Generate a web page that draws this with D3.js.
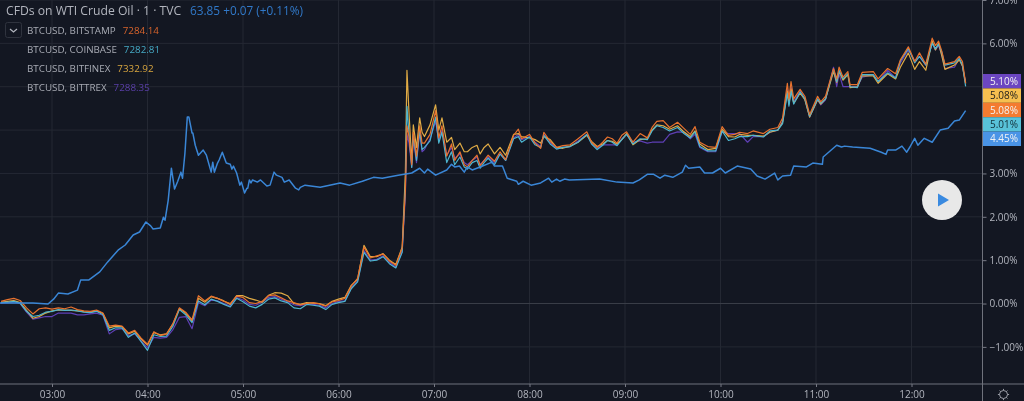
<!DOCTYPE html>
<html><head><meta charset="utf-8">
<script src="https://cdn.jsdelivr.net/npm/d3@7/dist/d3.min.js"></script>
<style>html,body{margin:0;padding:0;background:#131722;overflow:hidden}svg{display:block;filter:blur(0.3px)}text{font-family:"Open Sans",sans-serif}</style>
</head><body><svg id="c" width="1024" height="401"></svg>
<script>
// Minutes after midnight
const oilTimes=[147,168,177.5,181,184,190,196,198,203,210,215,221.5,226,231,235,239,242,243.5,248,250,251,253,255,257,259,261,262,263.5,265,266,268,268.5,270,272,275,277,280,281,282,284,285,287,289.5,292,293,294,296,298,299,301,302.5,303,304,305,306,309,311,315,317,319.5,321,324.5,326,329,333,335,336,339,348.5,361,367,375,382,387.5,397.5,406,411,414,416,421,428,431,433,436,439,441,444,449,456.5,458,463,466,472,473,476,481,487,492,494,497,499,502,505,524,535,545,549,554,558,562,565,570,576,578,580,587,590,595,600,603,610.5,619,623,628,634,636,639,644,646,654,658,664,664.5,673,676,678,683,694,701,704,705,710,714,717,719,722,724,728,733,738,743,747,750,754];
const oilValues=[0.01,0.01,-0.01,0.10,0.24,0.22,0.31,0.54,0.54,0.73,0.96,1.23,1.35,1.58,1.65,1.88,1.79,1.72,1.74,1.99,1.92,2.38,3.12,2.64,2.82,3.03,2.89,3.46,4.30,4.30,3.93,3.93,3.65,3.42,3.54,3.42,3.03,3.26,3.03,3.24,3.31,3.49,3.24,3.21,3.10,3.17,3.01,2.73,2.80,2.55,2.66,2.66,2.85,2.78,2.85,2.80,2.85,2.71,2.73,3.03,2.96,2.91,2.80,2.85,2.66,2.62,2.68,2.73,2.68,2.78,2.73,2.82,2.91,2.89,2.96,3.01,3.12,3.01,3.10,2.96,3.08,3.21,3.15,3.17,3.03,3.15,3.08,3.15,3.26,3.17,3.17,2.89,2.82,2.75,2.82,2.73,2.78,2.89,2.80,2.87,2.82,2.87,2.85,2.87,2.80,2.78,2.85,2.98,2.98,2.89,2.96,2.91,3.03,3.19,3.12,3.15,3.01,3.01,3.12,3.01,3.17,3.10,2.94,2.87,3.01,2.85,2.94,2.96,3.17,3.15,3.24,3.21,3.38,3.65,3.61,3.63,3.61,3.58,3.49,3.44,3.54,3.54,3.63,3.49,3.61,3.81,3.65,3.81,3.72,4.00,4.04,4.21,4.23,4.45];
const btcTimes=[148,152,156,160,164,168,172,176,180,184,
188,192,196,200,204,208,212,216,220,224,
228,232,236,240,244,248,252,256,260,264,
268,272,276,280,284,288,292,296,300,304,
308,312,316,320,324,328,332,336,340,344,
348,352,356,360,364,368,372,376,380,384,
388,392,396,400,
402,403,404.3,406,407,409,411,412.5,414,417.5,
421,423,425,428,431,433,436.3,439,441,444,
447,449,451.5,454,458,461.5,465,470,473,475,
480,483.5,487,489,493,497,501,505.5,510.5,516,
519,522.5,526,529,532,535,538,541,545,549.5,
554,557,560,564,568,573,577,581,584,587,
592,597,601,605,609,612,617,620.5,627,631,
636,639,642,643,644.3,646,650,653,656,661,
663,666,671,673,674.5,677,680,681.4,686,689,
696,699,705,710,713,718,722,725,729,733,
735,737,739,741,747,750,752,754];
const bitstamp=[0.05,0.09,0.12,0.07,-0.10,-0.24,-0.12,-0.10,-0.13,-0.10,
-0.12,-0.08,-0.14,-0.17,-0.18,-0.15,-0.22,-0.52,-0.50,-0.52,
-0.68,-0.62,-0.80,-0.94,-0.65,-0.74,-0.70,-0.46,-0.10,-0.20,
-0.38,0.18,0.06,0.17,0.12,0.05,0.00,0.17,0.14,0.02,
0.00,0.05,0.18,0.20,0.13,0.06,0.02,-0.03,0.00,0.02,
-0.01,-0.06,0.04,0.07,0.12,0.40,0.58,1.30,1.05,1.10,
1.14,0.98,0.88,1.28,
2.6,4.1,3.85,3.2,3.95,3.4,4.1,3.7,3.7,3.9,
4.45,3.82,4.1,3.4,3.68,3.3,3.5,3.2,3.15,3.3,
3.42,3.18,3.3,3.42,3.28,3.5,3.32,3.88,4.02,3.8,
3.9,3.7,3.58,3.95,3.74,3.6,3.64,3.66,3.8,3.96,
3.72,3.6,3.72,3.84,3.8,3.7,3.88,3.96,3.72,3.92,
3.82,4.06,4.2,4.22,4.06,4.18,4.04,3.9,4.08,3.72,
3.62,3.6,4.08,3.88,3.9,3.95,3.92,3.98,3.92,4.02,
4.06,4.28,5.08,4.72,5.12,4.72,4.94,4.78,4.36,4.78,
4.65,4.78,5.42,5.18,5.45,5.22,5.35,5.05,5.05,5.33,
5.35,5.18,5.42,5.3,5.62,5.92,5.58,5.78,5.52,6.12,
5.95,6.05,5.82,5.52,5.58,5.7,5.58,5.08];
const coinbase=[0.02,0.03,0.05,0.01,-0.18,-0.30,-0.27,-0.20,-0.18,-0.14,
-0.16,-0.15,-0.17,-0.20,-0.21,-0.18,-0.26,-0.62,-0.56,-0.56,
-0.78,-0.68,-0.88,-1.08,-0.72,-0.76,-0.75,-0.52,-0.14,-0.26,
-0.44,0.06,-0.03,0.10,0.05,-0.02,-0.08,0.12,0.04,-0.06,
-0.10,-0.02,0.10,0.13,0.06,0.02,-0.10,-0.12,-0.02,-0.04,
-0.06,-0.14,-0.02,0.02,0.05,0.34,0.50,1.18,0.98,1.00,
1.08,0.92,0.82,1.18,
2.7,4.55,3.9,3.14,3.9,3.3,4.0,3.55,3.6,3.75,
4.3,3.7,3.95,3.25,3.5,3.2,3.38,3.15,3.1,3.25,
3.3,3.12,3.25,3.35,3.2,3.45,3.3,3.8,3.85,3.72,
3.84,3.66,3.6,3.88,3.68,3.56,3.6,3.62,3.72,3.9,
3.68,3.55,3.65,3.76,3.72,3.64,3.78,3.9,3.68,3.8,
3.78,3.98,4.1,4.06,3.98,4.06,3.92,3.82,3.96,3.62,
3.52,3.52,3.98,3.76,3.8,3.85,3.85,3.88,3.84,3.98,
4.0,4.15,4.85,4.55,4.9,4.6,4.88,4.72,4.32,4.72,
4.62,4.72,5.4,5.12,5.38,5.18,5.3,5.0,4.98,5.28,
5.28,5.12,5.32,5.2,5.6,5.88,5.55,5.7,5.5,6.0,
5.88,5.98,5.8,5.5,5.55,5.65,5.5,5.01];
const bitfinex=[0.03,0.05,0.07,0.02,-0.16,-0.34,-0.30,-0.22,-0.17,-0.15,
-0.15,-0.16,-0.17,-0.19,-0.20,-0.17,-0.23,-0.56,-0.52,-0.53,
-0.70,-0.64,-0.82,-0.96,-0.67,-0.72,-0.70,-0.47,-0.12,-0.22,
-0.40,0.12,0.03,0.16,0.12,0.06,-0.02,0.18,0.18,0.12,
0.08,0.03,0.19,0.25,0.24,0.18,0.00,-0.02,0.02,0.01,
0.00,-0.05,0.05,0.10,0.14,0.42,0.56,1.34,1.08,1.08,
1.15,1.00,0.90,1.30,
3.0,5.38,4.4,3.25,4.12,3.6,4.28,3.95,3.85,4.12,
4.58,4.0,4.28,3.72,3.83,3.55,3.7,3.5,3.5,3.6,
3.65,3.45,3.6,3.68,3.45,3.6,3.42,3.9,3.92,3.85,
3.82,3.78,3.7,3.85,3.78,3.6,3.58,3.63,3.72,3.88,
3.74,3.62,3.68,3.76,3.74,3.68,3.78,3.92,3.66,3.78,
3.8,4.0,4.12,4.1,4.02,4.1,3.96,3.85,3.98,3.68,
3.55,3.58,4.02,3.85,3.84,3.9,3.88,3.88,3.86,3.95,
4.0,4.18,4.9,4.6,4.95,4.62,4.85,4.7,4.3,4.7,
4.6,4.72,5.35,5.1,5.35,5.15,5.28,4.98,5.0,5.25,
5.25,5.08,5.3,5.18,5.45,5.78,5.4,5.58,5.38,6.05,
5.85,6.0,5.72,5.4,5.5,5.62,5.48,5.08];
const bittrex=[0.01,0.02,0.04,0.00,-0.20,-0.36,-0.33,-0.30,-0.30,-0.22,
-0.22,-0.22,-0.26,-0.26,-0.24,-0.22,-0.27,-0.70,-0.60,-0.58,
-0.74,-0.70,-0.86,-1.02,-0.78,-0.80,-0.78,-0.60,-0.32,-0.30,
-0.58,0.02,-0.05,0.08,0.06,0.00,-0.06,0.14,0.08,-0.02,
-0.04,0.03,0.14,0.16,0.10,0.04,-0.03,-0.05,-0.01,-0.02,
-0.04,-0.10,0.00,0.05,0.06,0.36,0.52,1.22,1.00,1.02,
1.10,0.95,0.84,1.20,
2.5,3.9,3.7,3.15,3.8,3.25,3.95,3.5,3.55,3.8,
4.2,3.75,4.0,3.42,3.6,3.35,3.45,3.25,3.2,3.3,
3.38,3.2,3.3,3.38,3.25,3.45,3.3,3.82,3.9,3.78,
3.85,3.72,3.62,3.9,3.72,3.58,3.6,3.62,3.75,3.9,
3.7,3.58,3.66,3.66,3.66,3.66,3.8,3.9,3.72,3.75,
3.7,3.72,3.72,3.72,3.9,3.96,3.95,3.8,3.9,3.6,
3.5,3.5,3.96,3.92,3.92,3.92,3.72,3.85,3.85,3.95,
4.0,4.2,4.95,4.62,5.0,4.65,4.9,4.72,4.3,4.7,
4.58,4.7,5.45,5.0,5.3,5.0,5.0,5.0,5.0,5.22,
5.28,5.12,5.38,5.2,5.55,5.85,5.6,5.7,5.5,6.0,
5.85,5.95,5.75,5.42,5.45,5.65,5.48,5.10];
const gridY=[-1,0,1,2,3,4,5,6,7];
const yTicks=[-1,0,1,2,3,6,7]; // 4% and 5% labels sit under the price tags in the reference
const xTicks=[180,240,300,360,420,480,540,600,660,720];
const legendNames=["BTCUSD, BITSTAMP","BTCUSD, COINBASE","BTCUSD, BITFINEX","BTCUSD, BITTREX"];
const legendQuotes=["7284.14","7282.81","7332.92","7288.35"];
const legendColors=["#d9642c","#45a9c4","#d9a63f","#5a3fa8"];
const tagLabels=["5.10%","5.08%","5.08%","5.01%","4.45%"];
const tagFills=["#6b46c1","#f6bf4f","#f47b30","#58c2d9","#4a94e6"];
const tagInk=["#f2f2f2","#1c1c1c","#f2f2f2","#12303a","#f2f2f2"];

const W=1024,H=401,AX=982.5,AY=384;
const svg=d3.select("#c");
svg.append("rect").attr("width",W).attr("height",H).attr("fill","#131722");
const x=d3.scaleLinear().domain([147.33,764.6]).range([0,AX]);
const y=d3.scaleLinear().domain([-1.856,7]).range([AY,0]);
const grid="#242833";
svg.append("g").selectAll("line").data(xTicks).join("line")
 .attr("x1",d=>x(d)).attr("x2",d=>x(d)).attr("y1",0).attr("y2",AY).attr("stroke",grid);
svg.append("g").selectAll("line").data(gridY).join("line")
 .attr("x1",0).attr("x2",AX).attr("y1",d=>y(d)).attr("y2",d=>y(d)).attr("stroke",d=>d===0?"#3a3e49":grid);

const line=d3.line().x(d=>x(d[0])).y(d=>y(d[1]));
const draw=(ts,vs,c,w)=>svg.append("path").datum(ts.map((t,i)=>[t,vs[i]])).attr("d",line)
 .attr("fill","none").attr("stroke",c).attr("stroke-width",w).attr("stroke-linejoin","round");
draw(btcTimes,bittrex,"#5e3fb5",1.2);
draw(btcTimes,bitfinex,"#e0ab45",1.2);
draw(btcTimes,coinbase,"#4db5cf",1.2);
draw(btcTimes,bitstamp,"#e8722e",1.2);
draw(oilTimes,oilValues,"#3a86d6",1.5);

const pad=n=>String(n).padStart(2,"0");
const xAxis=d3.axisBottom(x).tickValues(xTicks).tickSize(3).tickPadding(4)
 .tickFormat(m=>pad(Math.floor(m/60))+":"+pad(m%60));
const gx=svg.append("g").attr("transform",`translate(0,${AY})`).call(xAxis);
const yAxis=d3.axisRight(y).tickValues(yTicks).tickSize(4).tickPadding(3)
 .tickFormat(d=>d3.format(".2f")(d)+"%");
const gy=svg.append("g").attr("transform",`translate(${AX},0)`).call(yAxis);
[gx,gy].forEach(g=>{g.selectAll("text").attr("fill","#b2b5be").attr("font-size",10).style("font-family",'"Open Sans",sans-serif');
 g.selectAll("line").attr("stroke","#787b86");g.select(".domain").remove();});
svg.append("line").attr("x1",0).attr("x2",W).attr("y1",AY).attr("y2",AY).attr("stroke","#6f727c");
svg.append("line").attr("x1",AX).attr("x2",AX).attr("y1",0).attr("y2",H).attr("stroke","#6f727c");

// price tags
const tagH=14.4,tagTop=74;
const tags=svg.append("g").selectAll("g").data(tagLabels).join("g")
 .attr("transform",(d,i)=>`translate(${AX+0.5},${tagTop+i*tagH})`);
tags.append("rect").attr("width",38).attr("height",tagH).attr("fill",(d,i)=>tagFills[i]);
tags.append("text").text(d=>d).attr("x",7).attr("y",10.8).attr("font-size",10).attr("fill",(d,i)=>tagInk[i]);

// title + legend
svg.append("text").attr("x",6).attr("y",15).attr("font-size",12.2).attr("fill","#b2b5be").text("CFDs on WTI Crude Oil · 1 · TVC");
svg.append("text").attr("x",190).attr("y",15).attr("font-size",11.8).attr("fill","#3179c9").text("63.85 +0.07 (+0.11%)");
svg.append("rect").attr("x",5.5).attr("y",22.5).attr("width",16).attr("height",15).attr("rx",2).attr("fill","#131722").attr("stroke","#2f333e");
svg.append("path").attr("d","M10 29l3.5 3l3.5-3").attr("fill","none").attr("stroke","#b2b5be").attr("stroke-width",1.2);
const rows=svg.append("g").selectAll("g").data(legendNames).join("g");
const names=rows.append("text").attr("x",27).attr("y",(d,i)=>33.8+i*19).attr("font-size",9.8).attr("fill","#a8abb4").text(d=>d);
names.each(function(d,i){
  const w=this.getComputedTextLength();
  svg.append("text").attr("x",27+w+7).attr("y",33.8+i*19).attr("font-size",9.8).attr("fill",legendColors[i]).text(legendQuotes[i]);
});

// play button
svg.append("circle").attr("cx",942).attr("cy",200).attr("r",20).attr("fill","#e8e8e8");
svg.append("path").attr("d","M938 193.5L949 200L938 206.5Z").attr("fill","#3a8ae0");
// gear
const gear=svg.append("g").attr("transform","translate(1003.5,394.5)").attr("stroke","#9a9da6").attr("fill","none");
gear.append("circle").attr("r",4);
d3.range(8).forEach(i=>{const a=i*Math.PI/4;gear.append("line").attr("x1",4*Math.cos(a)).attr("y1",4*Math.sin(a)).attr("x2",5.6*Math.cos(a)).attr("y2",5.6*Math.sin(a));});
</script></body></html>
